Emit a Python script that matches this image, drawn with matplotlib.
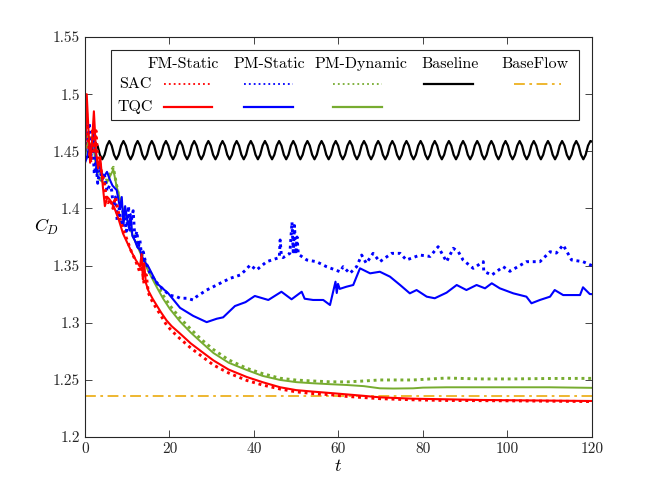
import numpy as np
import matplotlib
matplotlib.use("Agg")
import matplotlib.pyplot as plt
from matplotlib.patches import Rectangle

plt.rcParams['font.family'] = ['cmr10', 'DejaVu Serif']
plt.rcParams['mathtext.fontset'] = 'cm'
plt.rcParams['axes.formatter.use_mathtext'] = True

# ---- data ----
fm_sac_t = [0, 0.3, 0.6, 1.0, 1.4, 1.8, 2.2, 2.6, 3.0, 3.5, 4.0, 4.5, 5.0, 5.5, 6.0, 6.6, 7.2, 8.0, 9.0,
            10.0, 11.0, 12.0, 13.0, 13.5, 14.0, 14.5, 15.0, 16.0, 17.0, 18.0, 19.3, 20.5, 22.5, 25, 27.5,
            30.4, 34, 38.3, 42, 46.2, 50, 54, 58, 62, 66, 70, 78, 85, 93.5, 105, 120]
fm_sac_cd = [1.455, 1.49, 1.465, 1.45, 1.44, 1.47, 1.45, 1.468, 1.445, 1.44, 1.43, 1.425, 1.41, 1.405,
             1.408, 1.40, 1.41, 1.395, 1.382, 1.372, 1.362, 1.354, 1.344, 1.35, 1.333, 1.342, 1.326, 1.318,
             1.312, 1.306, 1.298, 1.293, 1.286, 1.278, 1.271, 1.263, 1.256, 1.2495, 1.2455, 1.242, 1.2395,
             1.238, 1.237, 1.2355, 1.2345, 1.2335, 1.2325, 1.232, 1.2318, 1.2315, 1.231]

fm_tqc_t = [0, 0.4, 0.8, 1.2, 1.6, 2.1, 2.6, 3.1, 3.6, 4.2, 4.7, 5.3, 6.0, 7.0, 8.0, 9.0, 10.0, 11.0, 12.0,
            13.0, 13.4, 13.7, 14.0, 14.4, 15.0, 16.0, 17.0, 18.0, 19.3, 20.5, 22.5, 25, 27.5, 30.4, 34,
            38.3, 42, 46.2, 50, 54, 58, 61.9, 66, 69.8, 77.7, 85, 93.5, 105, 120]
fm_tqc_cd = [1.45, 1.50, 1.47, 1.44, 1.455, 1.485, 1.45, 1.435, 1.445, 1.42, 1.402, 1.41, 1.407, 1.40,
             1.39, 1.378, 1.37, 1.362, 1.355, 1.349, 1.36, 1.338, 1.352, 1.335, 1.328, 1.321, 1.315, 1.309,
             1.302, 1.297, 1.2905, 1.282, 1.275, 1.267, 1.259, 1.2525, 1.248, 1.2435, 1.241, 1.2397,
             1.2385, 1.2373, 1.236, 1.2347, 1.2335, 1.233, 1.2324, 1.232, 1.2315]

pm_sac_t = [0, 0.3, 0.6, 1.0, 1.4, 1.8, 2.2, 2.6, 3.0, 3.5, 4.0, 4.6, 5.2, 5.8, 6.3, 6.7, 7.2, 7.6, 8.1,
            8.6, 9.2, 9.8, 10.3, 10.6, 11.0, 11.4, 11.8, 12.3, 12.6, 13.0, 13.4, 13.8, 14.2, 15.4, 17.0,
            18.5, 20.1, 21.7, 22.5, 24.1, 25.6, 26.4, 28.8, 31.2, 32.7, 34.5, 36.7, 38.0, 39.1, 40.6, 43.0,
            45.4, 46.0, 46.2, 46.5, 46.9, 48.5, 49.0, 49.3, 49.6, 49.9, 50.2, 50.5, 52.5, 54.8, 57.2, 60.4,
            61.1, 62.7, 64.3, 65.5, 66.6, 68.2, 69.8, 72.6, 74.6, 76.1, 79.3, 81.7, 83.6, 85.6, 87.2, 88.4,
            89.5, 91.9, 94.3, 94.4, 96.3, 99.0, 100.6, 104.5, 107.7, 110.1, 111.6, 113.2, 115.2, 117.9, 120]
pm_sac_cd = [1.45, 1.485, 1.46, 1.475, 1.445, 1.46, 1.43, 1.44, 1.422, 1.434, 1.425, 1.43, 1.415, 1.42,
             1.416, 1.402, 1.41, 1.39, 1.40, 1.385, 1.395, 1.38, 1.402, 1.381, 1.39, 1.398, 1.374, 1.38,
             1.366, 1.372, 1.358, 1.362, 1.355, 1.343, 1.335, 1.329, 1.324, 1.3228, 1.3214, 1.3214, 1.3199,
             1.3228, 1.3286, 1.333, 1.3359, 1.339, 1.3417, 1.346, 1.3505, 1.3461, 1.3534, 1.3563, 1.357,
             1.3724, 1.358, 1.357, 1.3607, 1.388, 1.362, 1.385, 1.36, 1.375, 1.36, 1.3549, 1.3534, 1.349,
             1.3446, 1.349, 1.3432, 1.349, 1.3592, 1.352, 1.3607, 1.3534, 1.3607, 1.3607, 1.3549, 1.3592,
             1.358, 1.3665, 1.3534, 1.3651, 1.362, 1.3549, 1.3476, 1.3534, 1.345, 1.3417, 1.349, 1.345,
             1.3534, 1.3534, 1.3621, 1.361, 1.368, 1.3549, 1.3534, 1.350]

pm_tqc_t = [0, 0.5, 1.0, 1.5, 2.05, 2.5, 2.8, 3.2, 3.8, 4.5, 5.2, 5.9, 6.5, 7.5, 8.3, 8.7, 9.1, 9.5, 10.0,
            10.4, 10.8, 11.2, 11.8, 12.4, 13.0, 13.8, 15.0, 17.0, 19.7, 22.5, 25.6, 28.8, 31.2, 32.7, 35.5,
            38.0, 40.2, 43.4, 46.5, 48.9, 51.3, 52.0, 54.0, 56.4, 58.0, 59.3, 59.6, 59.9, 60.3, 61.9, 63.5,
            65.1, 67.5, 69.8, 72.2, 74.6, 76.9, 78.5, 80.9, 82.8, 85.6, 88.0, 90.3, 92.7, 94.7, 96.3, 98.2,
            101.4, 104.5, 105.7, 107.7, 110.1, 111.2, 113.2, 117.2, 117.9, 119.5, 120]
pm_tqc_cd = [1.44, 1.445, 1.455, 1.45, 1.466, 1.45, 1.431, 1.44, 1.432, 1.428, 1.432, 1.425, 1.42, 1.416,
             1.40, 1.41, 1.385, 1.402, 1.39, 1.383, 1.395, 1.376, 1.372, 1.366, 1.364, 1.355, 1.349, 1.3345,
             1.3257, 1.313, 1.306, 1.3005, 1.3035, 1.3047, 1.3146, 1.318, 1.3234, 1.3199, 1.3271, 1.3205,
             1.3271, 1.321, 1.3199, 1.3199, 1.3155, 1.3359, 1.326, 1.334, 1.3296, 1.3315, 1.333, 1.3476,
             1.3432, 1.3446, 1.3403, 1.333, 1.3257, 1.3286, 1.3228, 1.3214, 1.3263, 1.333, 1.3286, 1.333,
             1.3301, 1.3345, 1.3301, 1.3257, 1.3228, 1.317, 1.3199, 1.3228, 1.3286, 1.3242, 1.3242, 1.331,
             1.3251, 1.325]

pmd_sac_t = [0, 0.5, 1.0, 1.5, 2.0, 2.5, 3.0, 3.5, 4.2, 5.0, 5.8, 6.7, 7.5, 8.3, 9.1, 10.0, 11.4, 12.5,
             13.8, 15.0, 17.0, 18.5, 20.1, 22.5, 25.0, 27.5, 30.4, 34.0, 38.3, 42.0, 46.2, 50.0, 54.0, 58.0,
             62.0, 66.0, 69.8, 77.7, 85.6, 93.5, 101.0, 110.0, 120]
pmd_sac_cd = [1.45, 1.46, 1.465, 1.455, 1.46, 1.445, 1.43, 1.428, 1.425, 1.424, 1.43, 1.436, 1.42, 1.405,
              1.395, 1.388, 1.378, 1.368, 1.357, 1.347, 1.334, 1.324, 1.315, 1.304, 1.2945, 1.2855, 1.2765,
              1.2675, 1.2601, 1.2555, 1.2514, 1.2498, 1.249, 1.2483, 1.2482, 1.249, 1.2499, 1.2499, 1.2516,
              1.2508, 1.2508, 1.2512, 1.2513]

pmd_tqc_t = [0, 0.5, 1.0, 1.5, 2.0, 2.5, 3.0, 3.5, 4.2, 5.1, 5.9, 6.7, 7.5, 8.3, 9.1, 10.0, 11.4, 12.5,
             13.8, 15.0, 17.0, 18.5, 20.1, 22.5, 25.0, 27.5, 30.4, 34.0, 38.3, 42.0, 46.2, 50.0, 54.0, 58.0,
             62.0, 66.0, 69.8, 73.0, 77.7, 80.0, 85.6, 93.5, 101.0, 110.0, 120]
pmd_tqc_cd = [1.445, 1.455, 1.458, 1.452, 1.455, 1.44, 1.428, 1.425, 1.423, 1.422, 1.428, 1.434, 1.419,
              1.408, 1.3986, 1.39, 1.375, 1.366, 1.355, 1.345, 1.331, 1.321, 1.312, 1.301, 1.2915, 1.283,
              1.2735, 1.265, 1.2586, 1.2535, 1.2499, 1.248, 1.247, 1.2462, 1.2455, 1.2445, 1.2426, 1.2424,
              1.2426, 1.2432, 1.2435, 1.2435, 1.2435, 1.2435, 1.243]

# baseline: regular vortex-shedding oscillation, six readings per cycle
baseline_t = [0, 0.8, 1.3, 1.85,
              2.4, 2.96, 3.52, 4.08, 4.63, 5.19,
              5.75, 6.31, 6.87, 7.43, 7.98, 8.54,
              9.1, 9.66, 10.22, 10.78, 11.33, 11.89,
              12.45, 13.01, 13.57, 14.13, 14.68, 15.24,
              15.8, 16.36, 16.92, 17.48, 18.03, 18.59,
              19.15, 19.71, 20.27, 20.83, 21.38, 21.94,
              22.5, 23.06, 23.62, 24.18, 24.73, 25.29,
              25.85, 26.41, 26.97, 27.53, 28.08, 28.64,
              29.2, 29.76, 30.32, 30.88, 31.43, 31.99,
              32.55, 33.11, 33.67, 34.23, 34.78, 35.34,
              35.9, 36.46, 37.02, 37.58, 38.13, 38.69,
              39.25, 39.81, 40.37, 40.93, 41.48, 42.04,
              42.6, 43.16, 43.72, 44.28, 44.83, 45.39,
              45.95, 46.51, 47.07, 47.63, 48.18, 48.74,
              49.3, 49.86, 50.42, 50.98, 51.53, 52.09,
              52.65, 53.21, 53.77, 54.33, 54.88, 55.44,
              56.0, 56.56, 57.12, 57.68, 58.23, 58.79,
              59.35, 59.91, 60.47, 61.03, 61.58, 62.14,
              62.7, 63.26, 63.82, 64.38, 64.93, 65.49,
              66.05, 66.61, 67.17, 67.73, 68.28, 68.84,
              69.4, 69.96, 70.52, 71.08, 71.63, 72.19,
              72.75, 73.31, 73.87, 74.43, 74.98, 75.54,
              76.1, 76.66, 77.22, 77.78, 78.33, 78.89,
              79.45, 80.01, 80.57, 81.13, 81.68, 82.24,
              82.8, 83.36, 83.92, 84.48, 85.03, 85.59,
              86.15, 86.71, 87.27, 87.83, 88.38, 88.94,
              89.5, 90.06, 90.62, 91.18, 91.73, 92.29,
              92.85, 93.41, 93.97, 94.53, 95.08, 95.64,
              96.2, 96.76, 97.32, 97.88, 98.43, 98.99,
              99.55, 100.11, 100.67, 101.23, 101.78, 102.34,
              102.9, 103.46, 104.02, 104.58, 105.13, 105.69,
              106.25, 106.81, 107.37, 107.93, 108.48, 109.04,
              109.6, 110.16, 110.72, 111.28, 111.83, 112.39,
              112.95, 113.51, 114.07, 114.63, 115.18, 115.74,
              116.3, 116.86, 117.42, 117.98, 118.53, 119.09,
              119.65, 120]
baseline_cd = [1.445, 1.445, 1.447, 1.455,
               1.458, 1.455, 1.447, 1.443, 1.447, 1.455,
               1.459, 1.455, 1.447, 1.443, 1.447, 1.455,
               1.459, 1.455, 1.447, 1.443, 1.447, 1.455,
               1.459, 1.455, 1.447, 1.443, 1.447, 1.455,
               1.459, 1.455, 1.447, 1.443, 1.447, 1.455,
               1.459, 1.455, 1.447, 1.443, 1.447, 1.455,
               1.459, 1.455, 1.447, 1.443, 1.447, 1.455,
               1.459, 1.455, 1.447, 1.443, 1.447, 1.455,
               1.459, 1.455, 1.447, 1.443, 1.447, 1.455,
               1.459, 1.455, 1.447, 1.443, 1.447, 1.455,
               1.459, 1.455, 1.447, 1.443, 1.447, 1.455,
               1.459, 1.455, 1.447, 1.443, 1.447, 1.455,
               1.459, 1.455, 1.447, 1.443, 1.447, 1.455,
               1.459, 1.455, 1.447, 1.443, 1.447, 1.455,
               1.459, 1.455, 1.447, 1.443, 1.447, 1.455,
               1.459, 1.455, 1.447, 1.443, 1.447, 1.455,
               1.459, 1.455, 1.447, 1.443, 1.447, 1.455,
               1.459, 1.455, 1.447, 1.443, 1.447, 1.455,
               1.459, 1.455, 1.447, 1.443, 1.447, 1.455,
               1.459, 1.455, 1.447, 1.443, 1.447, 1.455,
               1.459, 1.455, 1.447, 1.443, 1.447, 1.455,
               1.459, 1.455, 1.447, 1.443, 1.447, 1.455,
               1.459, 1.455, 1.447, 1.443, 1.447, 1.455,
               1.459, 1.455, 1.447, 1.443, 1.447, 1.455,
               1.459, 1.455, 1.447, 1.443, 1.447, 1.455,
               1.459, 1.455, 1.447, 1.443, 1.447, 1.455,
               1.459, 1.455, 1.447, 1.443, 1.447, 1.455,
               1.459, 1.455, 1.447, 1.443, 1.447, 1.455,
               1.459, 1.455, 1.447, 1.443, 1.447, 1.455,
               1.459, 1.455, 1.447, 1.443, 1.447, 1.455,
               1.459, 1.455, 1.447, 1.443, 1.447, 1.455,
               1.459, 1.455, 1.447, 1.443, 1.447, 1.455,
               1.459, 1.455, 1.447, 1.443, 1.447, 1.455,
               1.459, 1.455, 1.447, 1.443, 1.447, 1.455,
               1.459, 1.455, 1.447, 1.443, 1.447, 1.455,
               1.459, 1.4585]

baseflow_cd = 1.236

x_ticks = [0, 20, 40, 60, 80, 100, 120]
y_ticks = [1.2, 1.25, 1.3, 1.35, 1.4, 1.45, 1.5, 1.55]
y_tick_labels = ['1.2', '1.25', '1.3', '1.35', '1.4', '1.45', '1.5', '1.55']

col_names = ['FM-Static', 'PM-Static', 'PM-Dynamic', 'Baseline', 'BaseFlow']
row_names = ['SAC', 'TQC']

red = (1, 0, 0)
blue = (0, 0, 1)
green = (0.466, 0.674, 0.188)
orange = (0.929, 0.694, 0.125)
dots = (0, (1, 1.3))
dashdot = (0, (6, 2.5, 1.5, 2.5))

fig = plt.figure(figsize=(6.54, 4.91), dpi=100)
ax = fig.add_axes([0.130, 0.110, 0.775, 0.8146])

ax.axhline(baseflow_cd, color=orange, lw=1.3, ls=dashdot)
ax.plot(baseline_t, baseline_cd, color='k', lw=1.6)
ax.plot(pmd_sac_t, pmd_sac_cd, color=green, lw=2.1, ls=dots)
ax.plot(pmd_tqc_t, pmd_tqc_cd, color=green, lw=1.4)
ax.plot(pm_sac_t, pm_sac_cd, color=blue, lw=2.1, ls=dots)
ax.plot(pm_tqc_t, pm_tqc_cd, color=blue, lw=1.5)
ax.plot(fm_sac_t, fm_sac_cd, color=red, lw=2.1, ls=dots)
ax.plot(fm_tqc_t, fm_tqc_cd, color=red, lw=1.5)

ax.set_xlim(0, 120)
ax.set_ylim(1.2, 1.55)
ax.set_xticks(x_ticks)
ax.set_xticklabels([str(v) for v in x_ticks])
ax.set_yticks(y_ticks)
ax.set_yticklabels(y_tick_labels)
ax.tick_params(direction='in', top=True, right=True, labelsize=11, length=5, width=0.6, colors='#262626')
for s in ax.spines.values():
    s.set_linewidth(0.8)
    s.set_color('#262626')
ax.set_xlabel('$t$', fontsize=13, labelpad=2)
ax.set_ylabel('$C_D$', fontsize=13, rotation=0, va='center')
ax.yaxis.set_label_coords(-0.075, 0.525)

# table-style legend drawn in axes coordinates
tr = ax.transAxes
ax.add_patch(Rectangle((0.0513, 0.7925), 0.9227, 0.175, transform=tr, facecolor='white',
                       edgecolor='#262626', lw=0.8, zorder=5))
hx = [0.194, 0.363, 0.544, 0.720, 0.888]
for x, name in zip(hx, col_names):
    ax.text(x, 0.9325, name, transform=tr, ha='center', va='center', fontsize=11.5, zorder=6)
for y, name in zip([0.8825, 0.826], row_names):
    ax.text(0.0986, y, name, transform=tr, ha='center', va='center', fontsize=11.5, zorder=6)

seg = [(0.156, 0.250), (0.314, 0.410), (0.489, 0.586), (0.669, 0.765), (0.846, 0.939)]
sac_styles = [(red, 1.3, (0, (1, 1.7))), (blue, 1.3, (0, (1, 1.7))), (green, 1.3, (0, (1, 1.7))),
              ('k', 1.6, '-'), (orange, 1.3, dashdot)]
tqc_styles = [(red, 1.6, '-'), (blue, 1.6, '-'), (green, 1.6, '-')]
for (x0, x1), (c, lw, ls) in zip(seg, sac_styles):
    ax.plot([x0, x1], [0.8825, 0.8825], transform=tr, color=c, lw=lw, ls=ls, zorder=6, clip_on=False)
for (x0, x1), (c, lw, ls) in zip(seg, tqc_styles):
    ax.plot([x0, x1], [0.826, 0.826], transform=tr, color=c, lw=lw, ls=ls, zorder=6, clip_on=False)

fig.savefig('out.png', dpi=100)
